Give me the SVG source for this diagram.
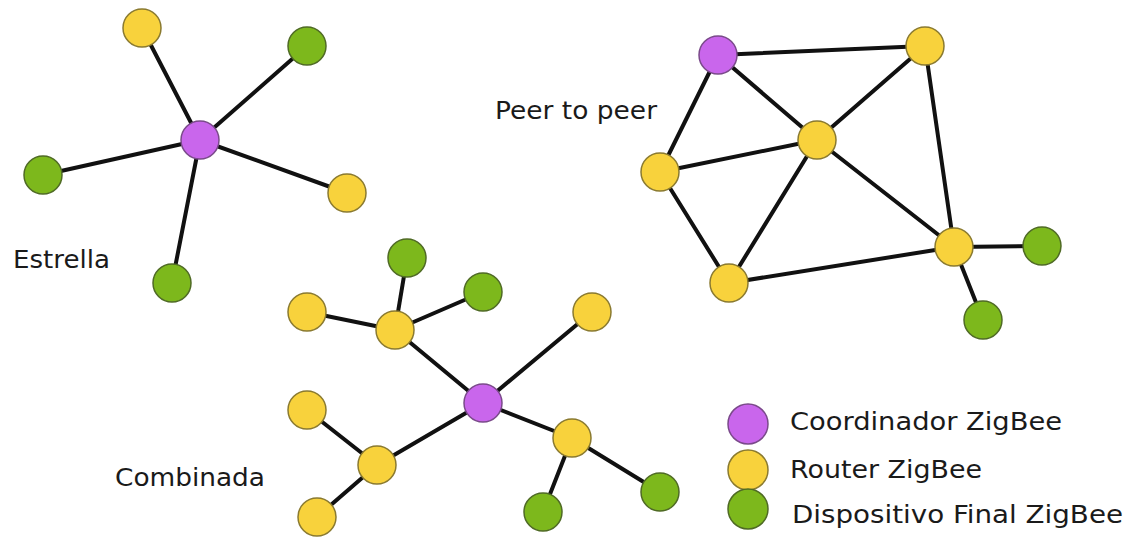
<svg xmlns="http://www.w3.org/2000/svg" width="1132" height="540" viewBox="0 0 1132 540">
<style>
  .edge { stroke: #111; stroke-width: 4; stroke-linecap: round; fill: none; }
  .coord { fill: #C966EC; stroke: #7a4a8a; stroke-width: 1.5; }
  .router { fill: #F8D23C; stroke: #8a7a30; stroke-width: 1.5; }
  .end { fill: #7DB81C; stroke: #4f6a25; stroke-width: 1.5; }
  .lbl { font-family: "DejaVu Sans", Verdana, sans-serif; font-size: 24px; fill: #1a1a1a; }
</style>
<rect width="1132" height="540" fill="#ffffff"/>

<g id="connectors">
  <!-- Estrella -->
  <line class="edge" x1="200" y1="140" x2="142" y2="28"/>
  <line class="edge" x1="200" y1="140" x2="307" y2="46"/>
  <line class="edge" x1="200" y1="140" x2="43" y2="175"/>
  <line class="edge" x1="200" y1="140" x2="347" y2="193"/>
  <line class="edge" x1="200" y1="140" x2="172" y2="283"/>
  <!-- Peer to peer -->
  <line class="edge" x1="718" y1="55" x2="925" y2="46"/>
  <line class="edge" x1="718" y1="55" x2="660" y2="172"/>
  <line class="edge" x1="718" y1="55" x2="817" y2="140"/>
  <line class="edge" x1="817" y1="140" x2="925" y2="46"/>
  <line class="edge" x1="817" y1="140" x2="660" y2="172"/>
  <line class="edge" x1="817" y1="140" x2="729" y2="283"/>
  <line class="edge" x1="817" y1="140" x2="954" y2="247"/>
  <line class="edge" x1="925" y1="46" x2="954" y2="247"/>
  <line class="edge" x1="660" y1="172" x2="729" y2="283"/>
  <line class="edge" x1="729" y1="283" x2="954" y2="247"/>
  <line class="edge" x1="954" y1="247" x2="1042" y2="246"/>
  <line class="edge" x1="954" y1="247" x2="983" y2="320"/>
  <!-- Combinada -->
  <line class="edge" x1="483" y1="403" x2="395" y2="330"/>
  <line class="edge" x1="483" y1="403" x2="592" y2="312"/>
  <line class="edge" x1="483" y1="403" x2="377" y2="465"/>
  <line class="edge" x1="483" y1="403" x2="572" y2="438"/>
  <line class="edge" x1="395" y1="330" x2="407" y2="258"/>
  <line class="edge" x1="395" y1="330" x2="483" y2="292"/>
  <line class="edge" x1="395" y1="330" x2="307" y2="312"/>
  <line class="edge" x1="377" y1="465" x2="307" y2="410"/>
  <line class="edge" x1="377" y1="465" x2="317" y2="517"/>
  <line class="edge" x1="572" y1="438" x2="543" y2="512"/>
  <line class="edge" x1="572" y1="438" x2="660" y2="492"/>
</g>

<!-- Estrella nodes -->
<g id="star-coord"><circle class="coord" cx="200" cy="140" r="19"/></g>
<g id="star-r1"><circle class="router" cx="142" cy="28" r="19"/></g>
<g id="star-e1"><circle class="end" cx="307" cy="46" r="19"/></g>
<g id="star-e2"><circle class="end" cx="43" cy="175" r="19"/></g>
<g id="star-r2"><circle class="router" cx="347" cy="193" r="19"/></g>
<g id="star-e3"><circle class="end" cx="172" cy="283" r="19"/></g>
<g id="label-estrella"><text class="lbl" x="13" y="268" textLength="97" lengthAdjust="spacingAndGlyphs">Estrella</text></g>

<!-- Peer to peer nodes -->
<g id="p2p-coord"><circle class="coord" cx="718" cy="55" r="19"/></g>
<g id="p2p-r-topright"><circle class="router" cx="925" cy="46" r="19"/></g>
<g id="p2p-r-center"><circle class="router" cx="817" cy="140" r="19"/></g>
<g id="p2p-r-left"><circle class="router" cx="660" cy="172" r="19"/></g>
<g id="p2p-r-bottom"><circle class="router" cx="729" cy="283" r="19"/></g>
<g id="p2p-r-bottomright"><circle class="router" cx="954" cy="247" r="19"/></g>
<g id="p2p-e-right"><circle class="end" cx="1042" cy="246" r="19"/></g>
<g id="p2p-e-bottom"><circle class="end" cx="983" cy="320" r="19"/></g>
<g id="label-peer"><text class="lbl" x="495" y="119" textLength="162" lengthAdjust="spacingAndGlyphs">Peer to peer</text></g>

<!-- Combinada nodes -->
<g id="comb-coord"><circle class="coord" cx="483" cy="403" r="19"/></g>
<g id="comb-r-upper"><circle class="router" cx="395" cy="330" r="19"/></g>
<g id="comb-e-top"><circle class="end" cx="407" cy="258" r="19"/></g>
<g id="comb-e-upperright"><circle class="end" cx="483" cy="292" r="19"/></g>
<g id="comb-r-upperleft"><circle class="router" cx="307" cy="312" r="19"/></g>
<g id="comb-r-topright"><circle class="router" cx="592" cy="312" r="19"/></g>
<g id="comb-r-left"><circle class="router" cx="377" cy="465" r="19"/></g>
<g id="comb-r-leftmid"><circle class="router" cx="307" cy="410" r="19"/></g>
<g id="comb-r-bottomleft"><circle class="router" cx="317" cy="517" r="19"/></g>
<g id="comb-r-right"><circle class="router" cx="572" cy="438" r="19"/></g>
<g id="comb-e-bottom"><circle class="end" cx="543" cy="512" r="19"/></g>
<g id="comb-e-right"><circle class="end" cx="660" cy="492" r="19"/></g>
<g id="label-combinada"><text class="lbl" x="115" y="486" textLength="150" lengthAdjust="spacingAndGlyphs">Combinada</text></g>

<!-- Legend -->
<g id="legend-coord">
  <circle class="coord" cx="748" cy="424" r="20"/>
  <text class="lbl" x="790" y="430" textLength="272" lengthAdjust="spacingAndGlyphs">Coordinador ZigBee</text>
</g>
<g id="legend-router">
  <circle class="router" cx="748" cy="470" r="20"/>
  <text class="lbl" x="790" y="478" textLength="192" lengthAdjust="spacingAndGlyphs">Router ZigBee</text>
</g>
<g id="legend-end">
  <circle class="end" cx="748" cy="509" r="20"/>
  <text class="lbl" x="792" y="523" textLength="331" lengthAdjust="spacingAndGlyphs">Dispositivo Final ZigBee</text>
</g>
</svg>
